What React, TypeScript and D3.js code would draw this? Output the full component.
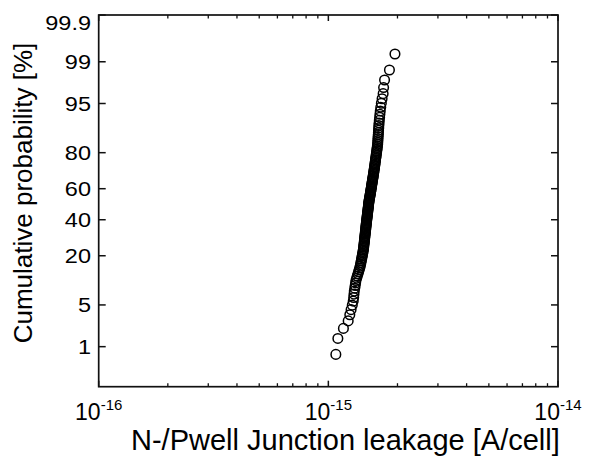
import React from "react";
import * as d3 from "d3";

// Cumulative-probability axis ticks (%)
const PROB_TICKS: number[] = [1, 5, 20, 40, 60, 80, 95, 99, 99.9];
const PROB_LABELS: string[] = ["1", "5", "20", "40", "60", "80", "95", "99", "99.9"];
// X-axis decades (A/cell) and their exponent labels
const X_DECADES: number[] = [1e-16, 1e-15, 1e-14];
const X_EXPONENTS: string[] = ["-16", "-15", "-14"];
const X_TITLE = "N-/Pwell Junction leakage [A/cell]";
const Y_TITLE = "Cumulative probability [%]";

// Sorted junction leakage per cell, in units of 1e-15 A (140 cells)
const LEAKAGE_FA: number[] = [
  1.078, 1.100, 1.163, 1.220, 1.240, 1.256, 1.271, 1.283, 1.289, 1.293,
  1.297, 1.303, 1.309, 1.314, 1.319, 1.328, 1.337, 1.346, 1.354, 1.362,
  1.370, 1.377, 1.382, 1.386, 1.391, 1.395, 1.400, 1.404, 1.408, 1.412,
  1.416, 1.420, 1.423, 1.425, 1.427, 1.429, 1.432, 1.434, 1.436, 1.438,
  1.440, 1.442, 1.444, 1.446, 1.448, 1.450, 1.452, 1.454, 1.456, 1.457,
  1.459, 1.461, 1.463, 1.465, 1.467, 1.469, 1.471, 1.473, 1.475, 1.477,
  1.479, 1.481, 1.483, 1.485, 1.487, 1.489, 1.491, 1.493, 1.495, 1.497,
  1.498, 1.500, 1.503, 1.505, 1.508, 1.511, 1.514, 1.517, 1.520, 1.523,
  1.526, 1.529, 1.531, 1.534, 1.537, 1.540, 1.543, 1.545, 1.548, 1.551,
  1.554, 1.557, 1.560, 1.563, 1.566, 1.569, 1.572, 1.575, 1.578, 1.581,
  1.584, 1.587, 1.590, 1.593, 1.596, 1.599, 1.602, 1.605, 1.608, 1.611,
  1.615, 1.618, 1.622, 1.625, 1.629, 1.632, 1.636, 1.640, 1.641, 1.643,
  1.645, 1.647, 1.650, 1.652, 1.654, 1.657, 1.659, 1.663, 1.667, 1.672,
  1.677, 1.683, 1.691, 1.701, 1.714, 1.732, 1.740, 1.757, 1.845, 1.950,
];

// Inverse standard normal CDF (Acklam) for the probability axis
function probit(p: number): number {
  const a = [-3.969683028665376e1, 2.209460984245205e2, -2.759285104469687e2, 1.38357751867269e2, -3.066479806614716e1, 2.506628277459239];
  const b = [-5.447609879822406e1, 1.615858368580409e2, -1.556989798598866e2, 6.680131188771972e1, -1.328068155288572e1];
  const c = [-7.784894002430293e-3, -3.223964580411365e-1, -2.400758277161838, -2.549732539343734, 4.374664141464968, 2.938163982698783];
  const d = [7.784695709041462e-3, 3.224671290700398e-1, 2.445134137142996, 3.754408661907416];
  const pl = 0.02425;
  if (p < pl) {
    const q = Math.sqrt(-2 * Math.log(p));
    return (((((c[0] * q + c[1]) * q + c[2]) * q + c[3]) * q + c[4]) * q + c[5]) / ((((d[0] * q + d[1]) * q + d[2]) * q + d[3]) * q + 1);
  }
  if (p > 1 - pl) {
    const q = Math.sqrt(-2 * Math.log(1 - p));
    return -(((((c[0] * q + c[1]) * q + c[2]) * q + c[3]) * q + c[4]) * q + c[5]) / ((((d[0] * q + d[1]) * q + d[2]) * q + d[3]) * q + 1);
  }
  const q = p - 0.5;
  const r = q * q;
  return ((((((a[0] * r + a[1]) * r + a[2]) * r + a[3]) * r + a[4]) * r + a[5]) * q) / (((((b[0] * r + b[1]) * r + b[2]) * r + b[3]) * r + b[4]) * r + 1);
}

const W = 600;
const H = 466;
const M = { left: 98.7, right: 558, top: 15, bottom: 386.7 };
const FONT = "'Liberation Sans', Arial, Helvetica, sans-serif";

export default function App() {
  const x = d3.scaleLog().domain([1e-16, 1e-14]).range([M.left, M.right]);
  const y = d3
    .scaleLinear()
    .domain([probit(0.00144), probit(0.999)])
    .range([M.bottom, M.top]);

  const n = LEAKAGE_FA.length;
  const points = LEAKAGE_FA.map((v, i) => ({
    x: x(v * 1e-15),
    y: y(probit((i + 1) / (n + 1))),
  }));

  const minorTicks = x.ticks().filter((t) => !X_DECADES.some((d) => Math.abs(t / d - 1) < 1e-6));

  return (
    <svg
      width={W}
      height={H}
      style={{ position: "absolute", left: 0, top: 0, background: "#fff" }}
      fontFamily={FONT}
    >
      <rect x={0} y={0} width={W} height={H} fill="#fff" />
      {/* y ticks, both sides, inward */}
      {PROB_TICKS.map((t) => (
        <g key={"yt" + t}>
          <line x1={M.left} x2={M.left + 7} y1={y(probit(t / 100))} y2={y(probit(t / 100))} stroke="#111" strokeWidth={1.5} />
          <line x1={M.right - 7} x2={M.right} y1={y(probit(t / 100))} y2={y(probit(t / 100))} stroke="#111" strokeWidth={1.5} />
        </g>
      ))}
      {/* x minor ticks */}
      {minorTicks.map((t, i) => (
        <g key={"xm" + i}>
          <line x1={x(t)} x2={x(t)} y1={M.bottom} y2={M.bottom - 3.5} stroke="#111" strokeWidth={1.3} />
          <line x1={x(t)} x2={x(t)} y1={M.top} y2={M.top + 3.5} stroke="#111" strokeWidth={1.3} />
        </g>
      ))}
      {X_DECADES.map((t, i) => (
        <g key={"xM" + i}>
          <line x1={x(t)} x2={x(t)} y1={M.bottom} y2={M.bottom - 6} stroke="#111" strokeWidth={1.5} />
          <line x1={x(t)} x2={x(t)} y1={M.top} y2={M.top + 6} stroke="#111" strokeWidth={1.5} />
        </g>
      ))}
      {/* frame */}
      <rect x={M.left} y={M.top} width={M.right - M.left} height={M.bottom - M.top} fill="none" stroke="#111" strokeWidth={1.7} />
      {/* y tick labels */}
      {PROB_TICKS.map((t, i) => {
        const ty = Math.max(y(probit(t / 100)), M.top + 7);
        return (
          <text
            key={"yl" + t}
            transform={`translate(91,${ty}) scale(1.12,1)`}
            textAnchor="end"
            dy="0.36em"
            fontSize={21}
            fill="#000"
          >
            {PROB_LABELS[i]}
          </text>
        );
      })}
      {/* x tick labels */}
      {X_DECADES.map((t, i) => (
        <text key={"xl" + i} x={x(t)} y={420} textAnchor="middle" fontSize={23} fill="#000">
          10
          <tspan dy={-10} fontSize={15}>
            {X_EXPONENTS[i]}
          </tspan>
        </text>
      ))}
      {/* axis titles */}
      <text x={345.4} y={450} textAnchor="middle" fontSize={29} fill="#000">
        {X_TITLE}
      </text>
      <text transform={`translate(32,193) rotate(-90)`} textAnchor="middle" fontSize={26} fill="#000">
        {Y_TITLE}
      </text>
      {/* data: hollow circles */}
      {points.map((p, i) => (
        <circle key={i} cx={p.x} cy={p.y} r={4.8} fill="none" stroke="#000" strokeWidth={1.5} />
      ))}
    </svg>
  );
}
